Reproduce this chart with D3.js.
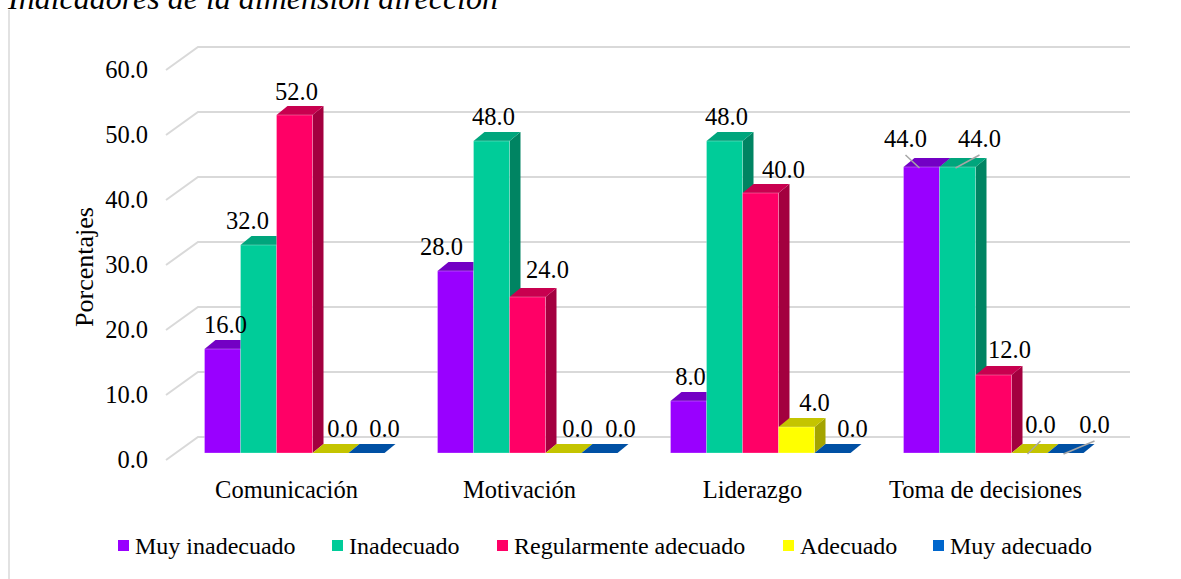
<!DOCTYPE html>
<html lang="es">
<head>
<meta charset="utf-8">
<script src="https://cdnjs.cloudflare.com/ajax/libs/d3/7.8.5/d3.min.js"></script>
<style>
  html, body { margin: 0; padding: 0; background: #ffffff; }
  text { font-family: "Liberation Serif", "Times New Roman", Times, "DejaVu Serif", serif; }
</style>
</head>
<body>
<svg id="chart" width="1181" height="579"></svg>
<script>
// ---- data ----
const categories = ["Comunicación", "Motivación", "Liderazgo", "Toma de decisiones"];
const seriesNames = ["Muy inadecuado", "Inadecuado", "Regularmente adecuado", "Adecuado", "Muy adecuado"];
const muyInadecuado = [16, 28, 8, 44];
const inadecuado = [32, 48, 48, 44];
const regularmenteAdecuado = [52, 24, 40, 12];
const adecuado = [0, 0, 4, 0];
const muyAdecuado = [0, 0, 0, 0];
const yTicks = [0, 10, 20, 30, 40, 50, 60];

const seriesValues = [muyInadecuado, inadecuado, regularmenteAdecuado, adecuado, muyAdecuado];

// ---- styling ----
const SERIF = "'Liberation Serif', 'Times New Roman', Times, 'DejaVu Serif', serif";
const faceColors = [
  { front: "#9900ff", top: "#7300c4", side: "#6a00b0", legend: "#9900ff" },
  { front: "#00cc99", top: "#00a57c", side: "#008462", legend: "#00cc99" },
  { front: "#ff0066", top: "#c8004f", side: "#a3003f", legend: "#ff0066" },
  { front: "#ffff00", top: "#c4c400", side: "#a4a400", legend: "#ffff00" },
  { front: "#0066cc", top: "#0050a4", side: "#004489", legend: "#0066cc" }
];

// label offsets (dx, dy) used to keep neighbouring data labels apart
const labelDx = [
  [1, -16, 0, -18],
  [-13, 0, 0, 20],
  [0, 18, 21, 14],
  [10, 12, 16, 9],
  [16, 19, 18, 27]
];
const labelDy = [
  [0, 0, 0, -4],
  [0, 0, 0, -4],
  [1, -3, 1, -1],
  [0, 0, 0, -4],
  [0, 0, 0, -4]
];
// labels joined to their bar by a leader line
const leaderLines = [
  [false, false, false, true],
  [false, false, false, true],
  [false, false, false, false],
  [false, false, false, true],
  [false, false, false, true]
];

const svg = d3.select("#chart").attr("font-family", SERIF);
const FONT = 24.5;
const LEGEND_FONT = 24;

// back wall of the 3-D plot and the oblique depth of the floor
const wall = { left: 198, right: 1130, top: 47, bottom: 437 };
const depth = { dx: -32, dy: 23 };          // back wall -> front edge
const barFront = { dx: -20, dy: 16 };       // back wall -> bar front face
const barDepth = { dx: 11, dy: -9 };        // bar front face -> bar back face

const y = d3.scaleLinear().domain([0, 60]).range([wall.bottom, wall.top]);
const x = d3.scaleBand().domain(categories).range([wall.left, wall.right]).padding(0);
const groupWidth = 180;
const xSeries = d3.scaleBand().domain(d3.range(seriesNames.length))
  .range([(x.bandwidth() - groupWidth) / 2, (x.bandwidth() + groupWidth) / 2]).padding(0);

function addText(sel) {
  return sel.append("text").attr("font-family", SERIF).attr("fill", "#000");
}

// ---- title ----
addText(svg)
  .attr("x", 8).attr("y", 9)
  .attr("font-size", 32).attr("font-style", "italic")
  .text("Indicadores de la dimensión dirección");

// chart area outline (left edge)
svg.append("line")
  .attr("x1", 9).attr("x2", 9).attr("y1", 10).attr("y2", 579)
  .attr("stroke", "#d9d9d9").attr("stroke-width", 1.5);

// ---- gridlines: back wall + side wall ----
const grid = svg.append("g").attr("stroke", "#d9d9d9").attr("stroke-width", 2).attr("fill", "none");
yTicks.forEach(t => {
  const yy = y(t);
  grid.append("path")
    .attr("d", `M${wall.left + depth.dx},${yy + depth.dy}L${wall.left},${yy}L${wall.right},${yy}`);
});

// ---- y tick labels ----
const tickG = svg.append("g");
yTicks.forEach(t => {
  addText(tickG)
    .attr("x", 148).attr("y", y(t) + depth.dy)
    .attr("dy", "0.34em")
    .attr("text-anchor", "end").attr("font-size", FONT)
    .text(t.toFixed(1));
});

// y axis title
addText(svg)
  .attr("transform", "translate(93,267) rotate(-90)")
  .attr("text-anchor", "middle").attr("font-size", 26)
  .text("Porcentajes");

// ---- category labels ----
const catG = svg.append("g");
categories.forEach(cat => {
  addText(catG)
    .attr("x", x(cat) + x.bandwidth() / 2 + depth.dx + 4)
    .attr("y", 498)
    .attr("text-anchor", "middle").attr("font-size", FONT)
    .text(cat);
});

// ---- 3-D bars, drawn left to right so later bars cover earlier side faces ----
const bars = svg.append("g");
const barGeom = [];
categories.forEach((cat, ci) => {
  seriesValues.forEach((vals, si) => {
    const v = vals[ci];
    const x0 = x(cat) + xSeries(si) + barFront.dx;
    const x1 = x0 + xSeries.bandwidth();
    const yb = y(0) + barFront.dy;
    const yt = y(v) + barFront.dy;
    const c = faceColors[si];
    const g = bars.append("g");
    // side face
    g.append("path")
      .attr("d", `M${x1},${yt}L${x1 + barDepth.dx},${yt + barDepth.dy}L${x1 + barDepth.dx},${yb + barDepth.dy}L${x1},${yb}Z`)
      .attr("fill", c.side);
    // top face
    g.append("path")
      .attr("d", `M${x0},${yt}L${x0 + barDepth.dx},${yt + barDepth.dy}L${x1 + barDepth.dx},${yt + barDepth.dy}L${x1},${yt}Z`)
      .attr("fill", c.top);
    // front face
    if (yb - yt > 0) {
      g.append("rect")
        .attr("x", x0).attr("y", yt).attr("width", x1 - x0).attr("height", yb - yt)
        .attr("fill", c.front)
        .attr("stroke", "rgba(255,255,255,0.35)").attr("stroke-width", 0.8);
    }
    barGeom.push({ si, ci, v, cx: (x0 + x1) / 2, yt, topBack: yt + barDepth.dy });
  });
});

// ---- data labels ----
const labels = svg.append("g");
barGeom.forEach(b => {
  const lx = b.cx + 2 + labelDx[b.si][b.ci];
  const ly = b.topBack - 7 + labelDy[b.si][b.ci];
  if (leaderLines[b.si][b.ci]) {
    labels.append("line")
      .attr("x1", lx).attr("y1", ly + 8)
      .attr("x2", b.cx - 2).attr("y2", b.yt + 1)
      .attr("stroke", "#a6a6a6").attr("stroke-width", 1.5);
  }
  addText(labels)
    .attr("x", lx).attr("y", ly)
    .attr("text-anchor", "middle").attr("font-size", FONT)
    .text(b.v.toFixed(1));
});

// ---- legend ----
const legendX = [118, 332, 497, 783, 933];
const legend = svg.append("g");
seriesNames.forEach((name, i) => {
  legend.append("rect")
    .attr("x", legendX[i]).attr("y", 540).attr("width", 11).attr("height", 11)
    .attr("fill", faceColors[i].legend);
  addText(legend)
    .attr("x", legendX[i] + 17).attr("y", 554)
    .attr("font-size", LEGEND_FONT)
    .text(name);
});
</script>
</body>
</html>
